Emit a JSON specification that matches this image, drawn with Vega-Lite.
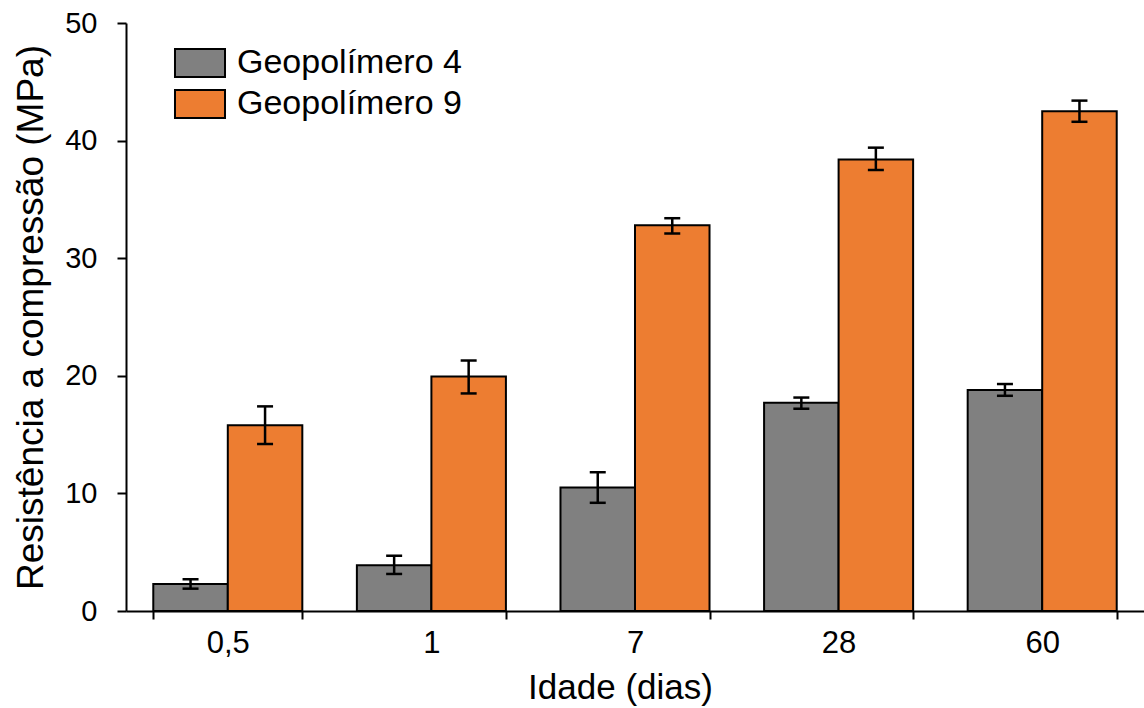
{
  "$schema": "https://vega.github.io/schema/vega-lite/v6.json",
  "width": 1018,
  "height": 588,
  "autosize": {"type": "none"},
  "padding": {"left": 126, "top": 23, "right": 0, "bottom": 97},
  "background": "white",
  "config": {
    "view": {"stroke": null},
    "font": "Liberation Sans",
    "axis": {"domainColor": "black", "tickColor": "black", "labelColor": "black", "titleColor": "black", "grid": false, "titleFontWeight": "normal", "domainWidth": 2, "tickWidth": 2}
  },
  "data": {
    "values": [
      {"idade": "0,5", "serie": "Geopolímero 4", "valor": 2.3, "min": 1.9, "max": 2.7},
      {"idade": "0,5", "serie": "Geopolímero 9", "valor": 15.8, "min": 14.2, "max": 17.4},
      {"idade": "1", "serie": "Geopolímero 4", "valor": 3.9, "min": 3.15, "max": 4.7},
      {"idade": "1", "serie": "Geopolímero 9", "valor": 19.95, "min": 18.5, "max": 21.3},
      {"idade": "7", "serie": "Geopolímero 4", "valor": 10.5, "min": 9.2, "max": 11.8},
      {"idade": "7", "serie": "Geopolímero 9", "valor": 32.8, "min": 32.1, "max": 33.4},
      {"idade": "28", "serie": "Geopolímero 4", "valor": 17.7, "min": 17.2, "max": 18.15},
      {"idade": "28", "serie": "Geopolímero 9", "valor": 38.4, "min": 37.5, "max": 39.4},
      {"idade": "60", "serie": "Geopolímero 4", "valor": 18.8, "min": 18.3, "max": 19.3},
      {"idade": "60", "serie": "Geopolímero 9", "valor": 42.5, "min": 41.6, "max": 43.4}
    ]
  },
  "encoding": {
    "x": {
      "field": "idade", "type": "nominal", "sort": ["0,5", "1", "7", "28", "60"],
      "scale": {"paddingInner": 0.268, "paddingOuter": 0.134},
      "axis": {"title": "Idade (dias)", "labelAngle": 0, "labelFontSize": 31, "titleFontSize": 35, "tickBand": "extent", "tickSize": 8, "labelPadding": 9, "titlePadding": 12, "titleX": 494}
    },
    "xOffset": {"field": "serie", "type": "nominal", "scale": {"paddingInner": 0, "paddingOuter": 0}}
  },
  "layer": [
    {
      "mark": {"type": "bar", "stroke": "black", "strokeWidth": 2, "opacity": 1},
      "encoding": {
        "y": {
          "field": "valor", "type": "quantitative",
          "scale": {"domain": [0, 50], "nice": false},
          "axis": {"title": "Resistência a compressão (MPa)", "values": [0, 10, 20, 30, 40, 50], "labelFontSize": 29, "titleFontSize": 37, "tickSize": 9, "labelPadding": 20, "titlePadding": 14}
        },
        "color": {
          "field": "serie", "type": "nominal",
          "scale": {"domain": ["Geopolímero 4", "Geopolímero 9"], "range": ["#808080", "#ED7D31"]},
          "legend": {
            "title": null, "orient": "none", "legendX": 57, "legendY": 23,
            "symbolType": "M-1.667,-0.933H1.667V0.933H-1.667Z", "symbolSize": 900,
            "symbolStrokeColor": "black", "symbolStrokeWidth": 2, "symbolOpacity": 1,
            "labelFontSize": 34, "labelColor": "black", "labelOffset": 20, "rowPadding": 5, "labelLimit": 400
          }
        }
      }
    },
    {
      "mark": {"type": "rule", "color": "black", "strokeWidth": 2.5},
      "encoding": {
        "y": {"field": "min", "type": "quantitative"},
        "y2": {"field": "max"}
      }
    },
    {
      "mark": {"type": "tick", "color": "black", "size": 16, "thickness": 2.5, "opacity": 1},
      "encoding": {"y": {"field": "min", "type": "quantitative"}}
    },
    {
      "mark": {"type": "tick", "color": "black", "size": 16, "thickness": 2.5, "opacity": 1},
      "encoding": {"y": {"field": "max", "type": "quantitative"}}
    }
  ]
}
